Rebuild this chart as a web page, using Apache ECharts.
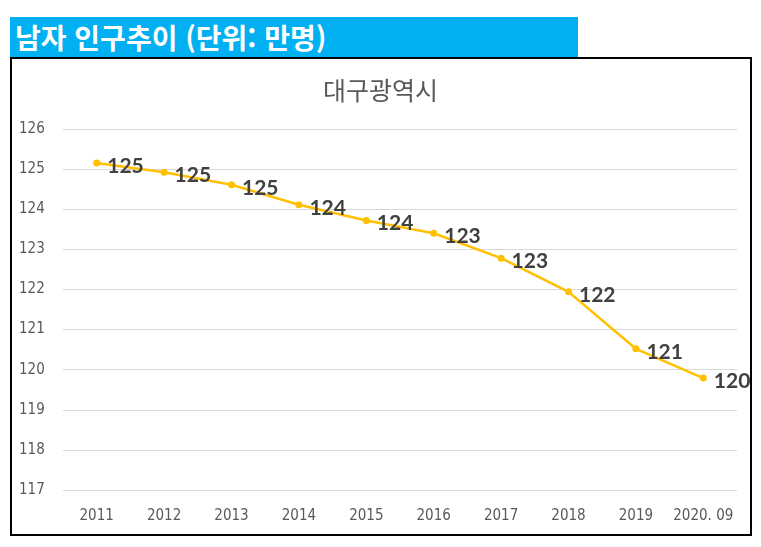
<!DOCTYPE html>
<html lang="ko">
<head>
    <meta charset="UTF-8">
    <title>남자 인구추이</title>
</head>
<style>
    html, body{
        margin: 0;
        padding: 0;
        background-color: #fff;
        font-family: "Noto Sans CJK KR", sans-serif;
    }
    .head{
        position: absolute;
        left: 10px;
        top: 17px;
        width: 568px;
        height: 40px;
        background-color: #00b0f0;
        color: #fff;
        font-size: 28px;
        font-weight: bold;
        line-height: 40px;
        padding-left: 5px;
        box-sizing: border-box;
        white-space: nowrap;
    }
    .box{
        position: absolute;
        left: 0;
        top: 0;
        width: 761px;
        height: 547px;
    }
    .frame{
        position: absolute;
        left: 10px;
        top: 57px;
        width: 742px;
        height: 479px;
        border: 2px solid #000;
        box-sizing: border-box;
    }
</style>
<body>
<div class="frame"></div>
<div class="box" id="main"></div>
<div class="head">남자 인구추이 (단위: 만명)</div>
<script src="https://cdn.jsdelivr.net/npm/echarts@6/dist/echarts.min.js"></script>
<script>
    var years = ['2011', '2012', '2013', '2014', '2015', '2016', '2017', '2018', '2019', '2020. 09'];
    var male = [125.15, 124.92, 124.61, 124.11, 123.72, 123.40, 122.78, 121.94, 120.52, 119.79];

    var app = echarts.init(document.getElementById('main'));

    var option = {
        animation: false,
        title: {
            text: '대구광역시',
            left: 'center',
            top: 73,
            textStyle: {
                color: '#595959',
                fontSize: 25,
                fontWeight: 'normal',
                fontFamily: 'Noto Sans CJK KR'
            }
        },
        grid: {
            left: 63,
            right: 24,
            top: 129,
            bottom: 57
        },
        xAxis: {
            type: 'category',
            data: years,
            boundaryGap: true,
            axisLine: {show: false},
            axisTick: {show: false},
            axisLabel: {
                interval: 0,
                color: '#595959',
                fontSize: 15,
                margin: 19,
                fontFamily: 'DejaVu Sans Condensed'
            }
        },
        yAxis: {
            type: 'value',
            min: 117,
            max: 126,
            interval: 1,
            axisLine: {show: false},
            axisTick: {show: false},
            axisLabel: {
                color: '#595959',
                fontSize: 15,
                margin: 44,
                align: 'left',
                fontFamily: 'DejaVu Sans Condensed'
            },
            splitLine: {
                lineStyle: {color: '#d9d9d9', width: 1}
            }
        },
        series: [
            {
                type: 'line',
                data: male,
                symbol: 'circle',
                symbolSize: 7,
                lineStyle: {color: '#ffc000', width: 2.5},
                itemStyle: {color: '#ffc000'},
                label: {
                    show: true,
                    position: 'right',
                    distance: 7,
                    offset: [0, 3],
                    color: '#404040',
                    fontSize: 21,
                    fontWeight: 'bold',
                    fontFamily: 'Lato',
                    formatter: function (p) {
                        return Math.round(p.value);
                    }
                }
            }
        ]
    };
    app.setOption(option);
</script>
</body>
</html>
